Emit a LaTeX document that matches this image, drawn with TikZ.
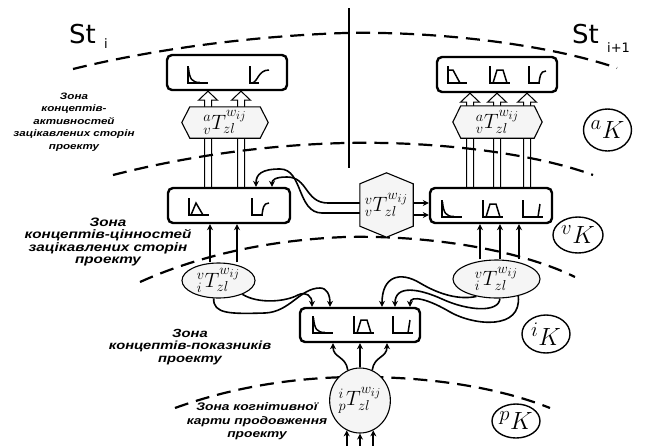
\documentclass[tikz,border=0pt]{standalone}
\usepackage{fontspec}
\usetikzlibrary{arrows.meta,calc,shapes.geometric}
\newfontfamily\zonefont[FakeStretch=1.25]{Liberation Sans}
\newfontfamily\stfont{DejaVu Sans}
\pgfdeclarelayer{fatl}
\pgfdeclarelayer{arcl}
\pgfdeclarelayer{shp}
\pgfsetlayers{fatl,arcl,shp,main}
\begin{document}
\begin{tikzpicture}[x=1pt,y=-1pt,
  box/.style={draw, line width=2.4pt, rounded corners=5pt, minimum width=120pt, minimum height=35pt, inner sep=0pt},
  hexnode/.style={inner sep=0pt, font=\fontsize{20.74}{20.74}\selectfont},
  hexfill/.style={draw, line width=1.1pt, fill=gray!8},
  ellnode/.style={ellipse, draw, line width=1.1pt, fill=gray!8, inner sep=0pt, font=\fontsize{20.74}{20.74}\selectfont},
  kcirc/.style={ellipse, draw, line width=1.4pt, fill=white, inner sep=0pt, font=\fontsize{24.88}{24.88}\selectfont},
  ztext/.style={align=center, inner sep=0pt},
  arcst/.style={line width=2.2pt, dash pattern=on 14pt off 8pt},
  conn/.style={line width=1.6pt, -{Stealth[length=6pt,width=6pt]}},
  fatarrow/.style={draw, line width=1pt, fill=white,
    to path={let \p1=(\tikztostart),\p2=(\tikztotarget) in
      (\x1-3.5pt,\y1) -- (\x1-3.5pt,\y2-9pt) -- (\x1-9.5pt,\y2-9pt) -- (\x1,\y2)
      -- (\x1+9.5pt,\y2-9pt) -- (\x1+3.5pt,\y2-9pt) -- (\x1+3.5pt,\y1)}},
  glyph/.style={line width=1.5pt},
  gDecay/.pic={\draw[glyph] (0,-17) -- (0,0) -- (20,0); \draw[glyph] (0.5,-15) .. controls (1.5,-4) and (4,-0.5) .. (12,-0.5);},
  gSrise/.pic={\draw[glyph] (0,-17) -- (0,0) -- (9,0); \draw[glyph] (2,0) .. controls (8,-1) and (8,-13) .. (19,-13);},
  gZfun/.pic={\draw[glyph] (0,-17) -- (0,0) -- (19,0); \draw[glyph] (0,-13) -- (5,-13) -- (12,0);},
  gTrap/.pic={\draw[glyph] (0,-17) -- (0,0) -- (20,0); \draw[glyph] (3,0) -- (7,-13) -- (13,-13) -- (17,0);},
  gCorner/.pic={\draw[glyph] (0,-17) -- (0,0) -- (11,0); \draw[glyph] (10,0) .. controls (11,-6) and (11,-12) .. (17,-12);},
  gTri/.pic={\draw[glyph] (0,-17) -- (0,0) -- (20,0); \draw[glyph] (2,0) -- (7,-12) -- (14,0);},
  gUshape/.pic={\draw[glyph] (0,-17) -- (0,0) -- (20,0); \draw[glyph] (15,0) -- (17,-13);}
]
\useasboundingbox (0,0) rectangle (646,445);

% stage labels and divider
\node[anchor=base west, inner sep=0pt, font=\stfont\fontsize{26}{26}\selectfont] (st1) at (69,43) {St};
\node[anchor=base west, inner sep=0pt, font=\stfont\fontsize{13}{13}\selectfont] (st1i) at (104,48) {i};
\node[anchor=base west, inner sep=0pt, font=\stfont\fontsize{26}{26}\selectfont] (st2) at (572,43) {St};
\node[anchor=base west, inner sep=0pt, font=\stfont\fontsize{13}{13}\selectfont] (st2i) at (607,52) {i+1};
\coordinate (vt) at (349,8);
\coordinate (vb) at (349,168);
\draw[line width=2pt] (vt) -- (vb);

% boxes
\node[box] (abL) at (227,72.5) {};
\node[box] (abR) at (497,74.5) {};
\node[box, minimum width=122pt] (vbL) at (229,205.5) {};
\node[box, minimum width=122pt] (vbR) at (491,205.5) {};
\node[box, minimum height=34pt] (ib) at (360,325) {};

% glyphs
\pic at (188,83) {gDecay};
\pic at (250,83) {gSrise};
\pic at (448,83) {gZfun};
\pic at (490,83) {gTrap};
\pic at (529,83) {gCorner};
\pic at (189,215) {gTri};
\pic at (252,215) {gCorner};
\pic at (442,217) {gDecay};
\pic at (483,217) {gTrap};
\pic at (523,217) {gUshape};
\pic at (313,333) {gDecay};
\pic at (354,333) {gTrap};
\pic at (393,333) {gUshape};

% hexagons
\node[hexnode, minimum width=86pt, minimum height=31pt] (hxL) at (225,122.5) {${}^{a}_{v}T^{w_{ij}}_{zl}$};
\node[hexnode, minimum width=89pt, minimum height=32pt] (hxR) at (497.5,122) {${}^{a}_{v}T^{w_{ij}}_{zl}$};
\node[hexnode, minimum width=53pt, minimum height=64pt] (hxM) at (386.5,205) {${}^{v}_{v}T^{w_{ij}}_{zl}$};
\begin{pgfonlayer}{shp}
\draw[hexfill] (hxL.west) -- ([xshift=8pt]hxL.north west) -- ([xshift=-8pt]hxL.north east) -- (hxL.east) -- ([xshift=-8pt]hxL.south east) -- ([xshift=8pt]hxL.south west) -- cycle;
\draw[hexfill] (hxR.west) -- ([xshift=8pt]hxR.north west) -- ([xshift=-8pt]hxR.north east) -- (hxR.east) -- ([xshift=-8pt]hxR.south east) -- ([xshift=8pt]hxR.south west) -- cycle;
\draw[hexfill] (hxM.north) -- ([yshift=-11pt]hxM.north east) -- ([yshift=11pt]hxM.south east) -- (hxM.south) -- ([yshift=11pt]hxM.south west) -- ([yshift=-11pt]hxM.north west) -- cycle;
\end{pgfonlayer}

% ellipses
\node[ellnode, minimum width=73pt, minimum height=35pt] (elL) at (218.5,280.5) {${}^{v}_{i}T^{w_{ij}}_{zl}$};
\node[ellnode, minimum width=87pt, minimum height=38pt] (elR) at (496.5,279) {${}^{v}_{i}T^{w_{ij}}_{zl}$};
\node[ellnode, minimum width=56pt, minimum height=65pt] (elB) at (360,400.5) {${}^{i}_{p}T^{w_{ij}}_{zl}$};

% K circles
\node[kcirc, minimum width=48pt, minimum height=42pt] (Ka) at (607.5,130) {${}^{a}K$};
\node[kcirc, minimum width=50pt, minimum height=36pt] (Kv) at (578,235) {${}^{v}K$};
\node[kcirc, minimum width=48pt, minimum height=38pt] (Ki) at (546,334) {${}^{i}K$};
\node[kcirc, minimum width=48pt, minimum height=34pt] (Kp) at (516,421) {${}^{p}K$};

% zone texts
\node[ztext, font=\zonefont\bfseries\itshape\fontsize{9.3}{12.5}\selectfont] (z1) at (74,122) {Зона\\концептів-\\активностей\\зацікавлених сторін\\проекту};
\node[ztext, font=\zonefont\bfseries\itshape\fontsize{12.2}{12.3}\selectfont] (z2) at (108,242) {Зона\\концептів-цінностей\\зацікавлених сторін\\проекту};
\node[ztext, font=\zonefont\bfseries\itshape\fontsize{11.8}{12.5}\selectfont] (z3) at (190,347) {Зона\\концептів-показників\\проекту};
\node[ztext, font=\zonefont\bfseries\itshape\fontsize{11}{13.5}\selectfont] (z4) at (257,421.5) {Зона когнітивної\\карти продовження\\проекту};

% hollow arrows
\begin{pgfonlayer}{fatl}
\path[fatarrow] ([xshift=-21pt]vbL.north) to ([xshift=-21pt]abL.south);
\path[fatarrow] ([xshift=12pt]vbL.north) to ([xshift=12pt]abL.south);
\path[fatarrow] ([xshift=-21pt]vbR.north) to ([xshift=-21pt]abR.south);
\path[fatarrow] ([xshift=6pt]vbR.north) to ([xshift=6pt]abR.south);
\path[fatarrow] ([xshift=36pt]vbR.north) to ([xshift=36pt]abR.south);
\end{pgfonlayer}

\begin{pgfonlayer}{arcl}
% dashed zone boundaries
\draw[arcst] (73,69) .. controls (150,50) and (250,36) .. (345,33) .. controls (440,31) and (550,45) .. (617,68);
\draw[arcst] (113,175) .. controls (180,158) and (260,145) .. (345,143) .. controls (430,141) and (530,152) .. (593,175);
\draw[arcst] (140,282) .. controls (200,255) and (270,240) .. (345,237) .. controls (430,235) and (520,250) .. (575,277);
\draw[arcst] (175,408) .. controls (230,388) and (290,378) .. (350,377) .. controls (430,376) and (500,388) .. (550,408);

% ellipses to value boxes
\draw[conn] ([xshift=-8.5pt]elL.north) -- ([xshift=-19pt]vbL.south);
\draw[conn] ([xshift=18.5pt]elL.north) -- ([xshift=8pt]vbL.south);
\draw[conn] ([xshift=-16.5pt]elR.north) -- ([xshift=-11pt]vbR.south);
\draw[conn] ([xshift=3.5pt]elR.north) -- ([xshift=9pt]vbR.south);
\draw[conn] ([xshift=22.5pt]elR.north) -- ([xshift=28pt]vbR.south);

% middle hexagon to value boxes
\coordinate (m1) at ([yshift=2pt]hxM.east);
\coordinate (m2) at ([yshift=-10pt]hxM.east);
\draw[conn] (m1) -- (m1 -| vbR.west);
\draw[conn] (m2) -- (m2 -| vbR.west);
\coordinate (m3) at ([yshift=2pt]hxM.west);
\coordinate (m4) at ([yshift=-8pt]hxM.west);
\draw[conn] (m3) -- (328,203) .. controls (305,203) and (308,177) .. (287,177) .. controls (275,177) and (272,180) .. ([xshift=43pt]vbL.north);
\draw[conn] (m4) -- (322,213) .. controls (297,213) and (303,169) .. (280,169) .. controls (262,169) and (256,174) .. ([xshift=27pt]vbL.north);

% value ellipses to indicator box
\draw[conn] (elL.-30) .. controls (258,304) and (285,302) .. (298,295) .. controls (306,291) and (312,296) .. ([xshift=-48pt]ib.north);
\draw[conn] (elL.-105) .. controls (213,314) and (230,314) .. (265,313) .. controls (290,312) and (300,288) .. (320,288) .. controls (327,288) and (330,295) .. ([xshift=-30pt]ib.north);
\draw[conn] (elR.221) .. controls (460,300) and (440,295) .. (420,283) .. controls (400,271) and (382,276) .. ([xshift=22pt]ib.north);
\draw[conn] (elR.280) .. controls (499,313) and (468,311) .. (442,299) .. controls (420,289) and (395,284) .. ([xshift=35pt]ib.north);
\draw[conn] (elR.322) .. controls (522,330) and (475,326) .. (450,312) .. controls (430,300) and (410,294) .. ([xshift=50pt]ib.north);

% continuation ellipse to indicator box
\draw[conn] (elB.north) -- (ib.south);
\draw[conn] (elB.112) .. controls (346,356) and (333,358) .. ([xshift=-27pt]ib.south);
\draw[conn] (elB.68) .. controls (374,356) and (387,358) .. ([xshift=27pt]ib.south);

% inputs from below
\coordinate (bot) at (360,446);
\draw[conn] (elB.246 |- bot) -- (elB.246);
\draw[conn] (elB.south |- bot) -- (elB.south);
\draw[conn] (elB.294 |- bot) -- (elB.294);
\end{pgfonlayer}
\end{tikzpicture}
\end{document}
